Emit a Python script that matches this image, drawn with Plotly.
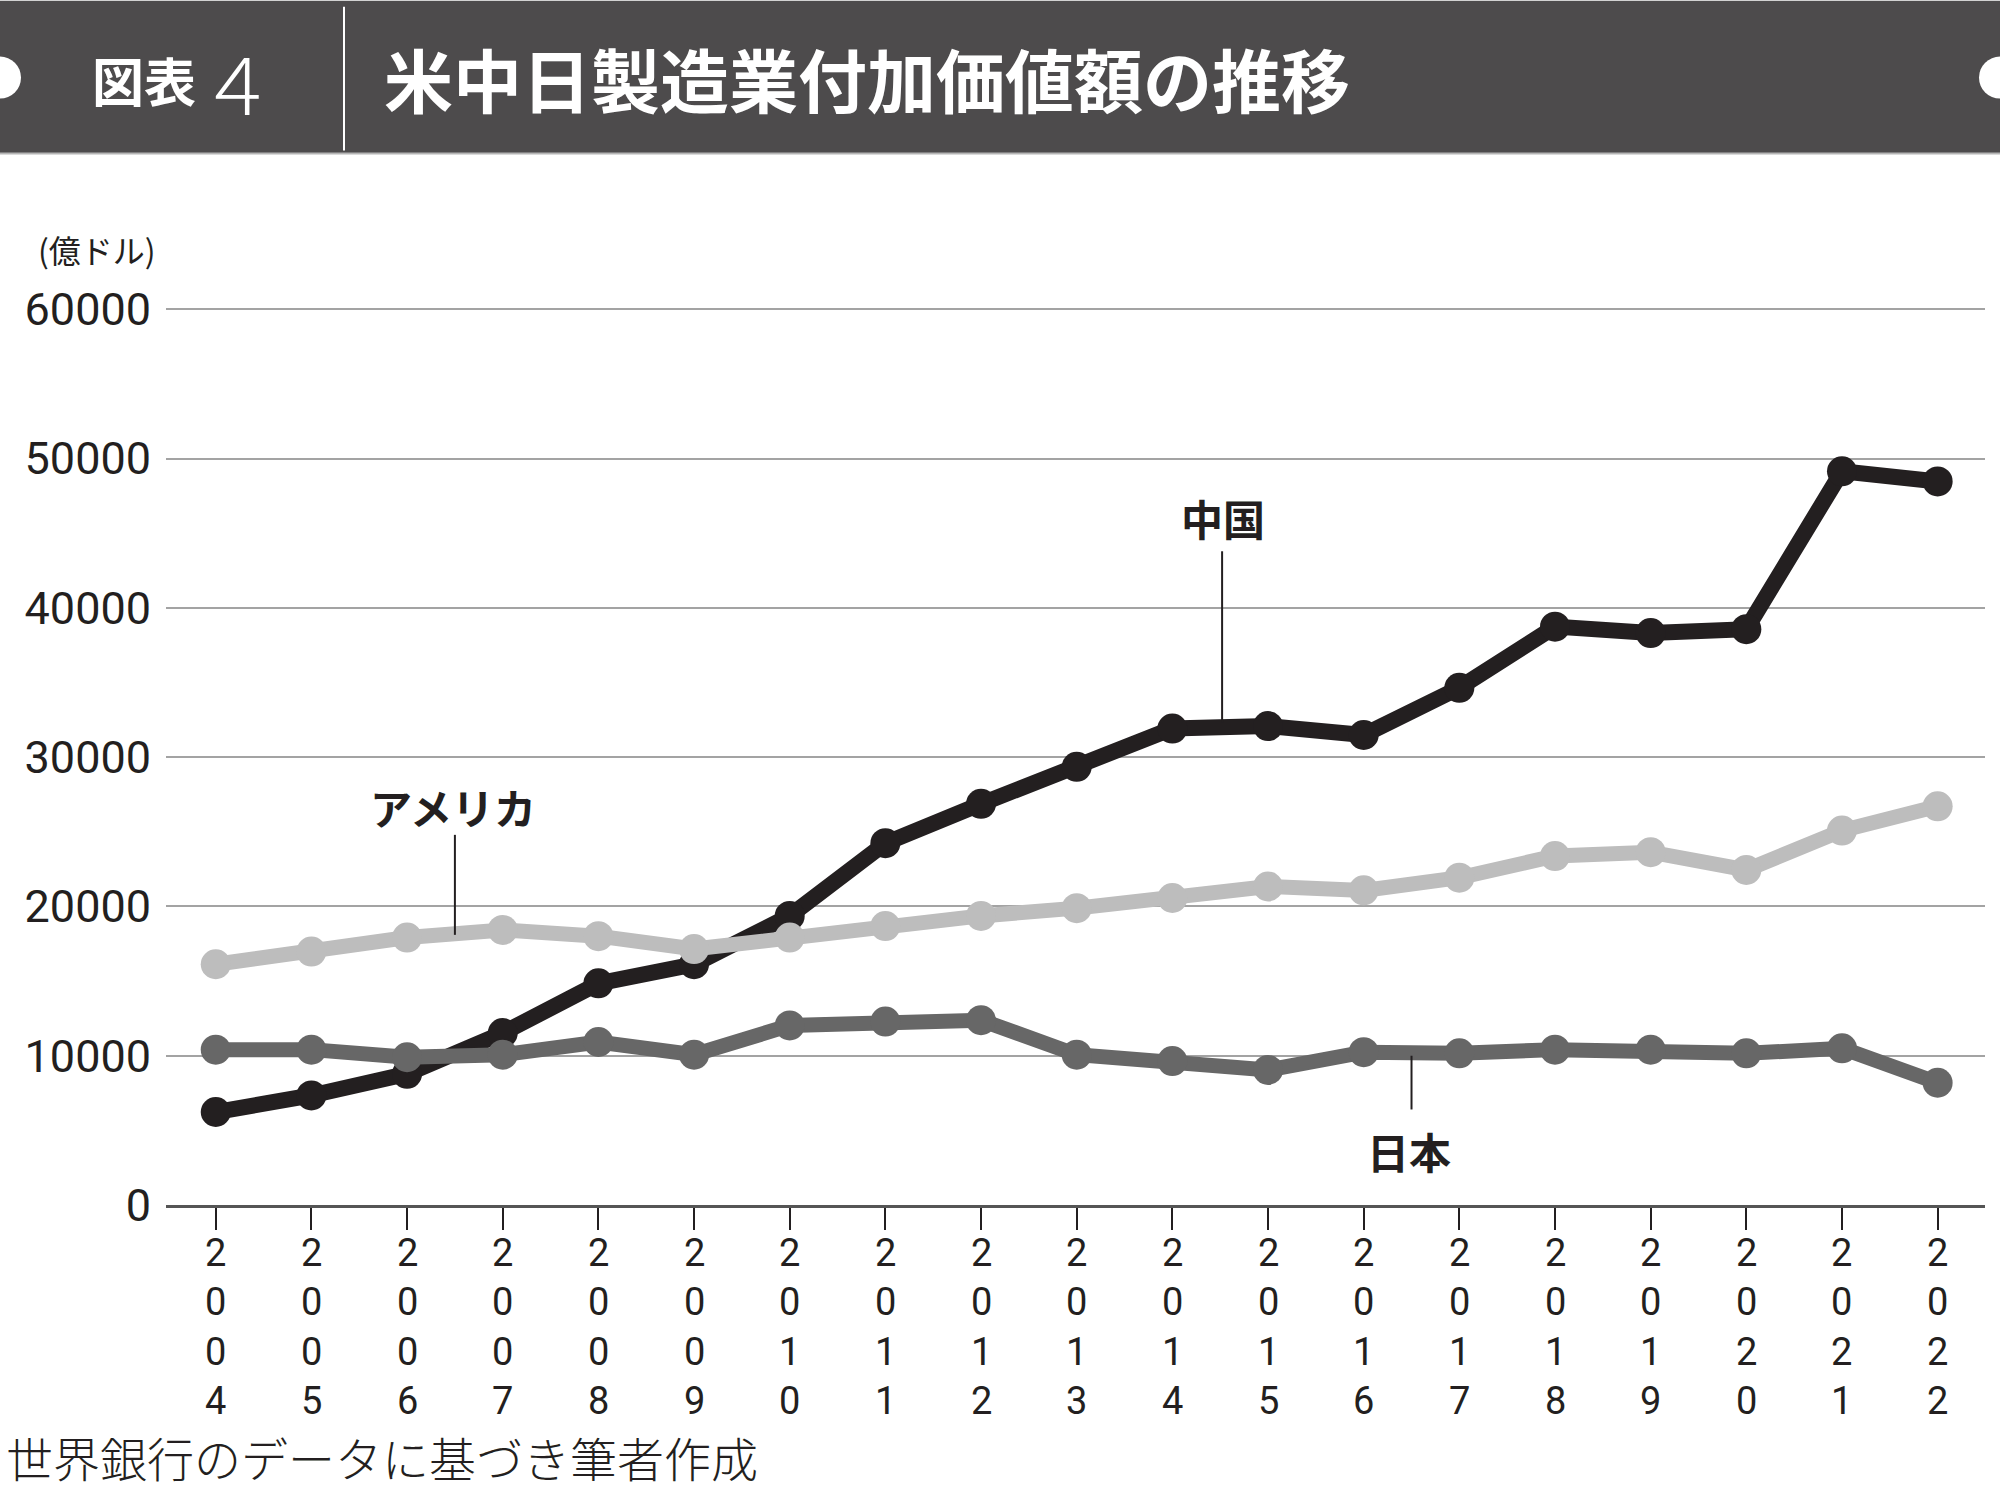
import plotly.graph_objects as go

years = list(range(2004, 2023))
china = [6230, 7340, 8790, 11520, 14850, 16130, 19370, 24240, 26880, 29360,
         31920, 32090, 31490, 34650, 38750, 38320, 38580, 49160, 48480]
usa = [16130, 16980, 17920, 18430, 18010, 17150, 17920, 18690, 19370, 19890,
       20570, 21340, 21080, 21930, 23380, 23640, 22450, 25090, 26710]
japan = [10410, 10410, 9900, 10070, 10920, 10070, 12030, 12290, 12380, 10070,
         9640, 9050, 10240, 10160, 10410, 10410, 10160, 10500, 8190]
y_ticks = [0, 10000, 20000, 30000, 40000, 50000, 60000]

title_main = "米中日製造業付加価値額の推移"
title_tag = "図表"
title_num = "４"
unit_label = "(億ドル)"
source_note = "世界銀行のデータに基づき筆者作成"

W, H = 2000, 1495
YMAX = 60300
PX_PER_UNIT = 896 / 60000
L, R, B = 166, 15, 290
T = 309 - (YMAX - 60000) * PX_PER_UNIT
PW, PH = W - L - R, H - T - B

def xp(px):
    return (px - L) / PW

def yp(py):
    return (H - B - py) / PH

JP = "Noto Sans CJK JP"
NUM = "Roboto, sans-serif"
DARK = "#231f20"

fig = go.Figure()
series = [
    ("中国", china, "#231f20", 16),
    ("日本", japan, "#676767", 15),
    ("アメリカ", usa, "#bdbdbd", 15),
]
for name, vals, col, lw in series:
    fig.add_trace(go.Scatter(
        x=years, y=vals, mode="lines+markers", name=name,
        line=dict(color=col, width=lw),
        marker=dict(color=col, size=30, line=dict(width=0)),
        showlegend=False, cliponaxis=False,
    ))

shapes = [
    dict(type="rect", xref="paper", yref="paper",
         x0=xp(0), x1=xp(W), y0=yp(153), y1=yp(0),
         fillcolor="#4d4b4c", line=dict(width=0), layer="above"),
    dict(type="line", xref="paper", yref="paper",
         x0=xp(0), x1=xp(W), y0=yp(153), y1=yp(153),
         line=dict(color="#b5b5b5", width=2)),
    dict(type="circle", xref="paper", yref="paper",
         x0=xp(-21), x1=xp(21), y0=yp(98), y1=yp(56),
         fillcolor="white", line=dict(width=0)),
    dict(type="circle", xref="paper", yref="paper",
         x0=xp(W - 21), x1=xp(W + 21), y0=yp(98), y1=yp(56),
         fillcolor="white", line=dict(width=0)),
    dict(type="line", xref="paper", yref="paper",
         x0=xp(344), x1=xp(344), y0=yp(150), y1=yp(6),
         line=dict(color="white", width=2)),
    # leader lines
    dict(type="line", xref="x", yref="y", x0=2014.52, x1=2014.52,
         y0=32300, y1=43800, line=dict(color=DARK, width=2)),
    dict(type="line", xref="x", yref="y", x0=2006.5, x1=2006.5,
         y0=18100, y1=24800, line=dict(color=DARK, width=2)),
    dict(type="line", xref="x", yref="y", x0=2016.5, x1=2016.5,
         y0=6400, y1=10000, line=dict(color=DARK, width=2)),
]

annotations = [
    dict(text=title_tag, xref="paper", yref="paper", x=xp(90), y=yp(79),
         xanchor="left", yanchor="middle", showarrow=False,
         font=dict(family=JP, size=52, color="white", weight=700)),
    dict(text=title_num, xref="paper", yref="paper", x=xp(196), y=yp(80),
         xanchor="left", yanchor="middle", showarrow=False,
         font=dict(family=JP, size=78, color="white", weight=300)),
    dict(text=title_main, xref="paper", yref="paper", x=xp(382), y=yp(77),
         xanchor="left", yanchor="middle", showarrow=False,
         font=dict(family=JP, size=69, color="white", weight=700)),
    dict(text=unit_label, xref="paper", yref="paper", x=xp(36), y=yp(248),
         xanchor="left", yanchor="middle", showarrow=False,
         font=dict(family=JP, size=32, color=DARK)),
    dict(text=source_note, xref="paper", yref="paper", x=xp(4), y=yp(1457),
         xanchor="left", yanchor="middle", showarrow=False,
         font=dict(family=JP, size=47, color=DARK, weight=300)),
    dict(text="中国", xref="x", yref="y", x=2014.53, y=46070,
         xanchor="center", yanchor="middle", showarrow=False,
         font=dict(family=JP, size=42, color=DARK, weight=700)),
    dict(text="アメリカ", xref="x", yref="y", x=2006.48, y=26720,
         xanchor="center", yanchor="middle", showarrow=False,
         font=dict(family=JP, size=42, color=DARK, weight=700)),
    dict(text="日本", xref="x", yref="y", x=2016.47, y=3680,
         xanchor="center", yanchor="middle", showarrow=False,
         font=dict(family=JP, size=42, color=DARK, weight=700)),
]

# vertical year labels, one digit per line
for yr in years:
    annotations.append(dict(
        text="<br>".join(str(yr)), xref="x", yref="paper", x=yr, y=yp(1229),
        xanchor="center", yanchor="top", showarrow=False,
        font=dict(family=NUM, size=38, color=DARK, weight=400)))

fig.update_layout(
    width=W, height=H,
    margin=dict(l=L, r=R, t=T, b=B, pad=0),
    paper_bgcolor="white", plot_bgcolor="white",
    shapes=shapes, annotations=annotations,
    xaxis=dict(range=[2003.48, 2022.495], tickvals=years, showticklabels=False,
               ticks="outside", ticklen=22, tickwidth=2, tickcolor=DARK,
               showgrid=False, zeroline=False, showline=True,
               linecolor="#555555", linewidth=3),
    yaxis=dict(range=[0, YMAX], tickvals=y_ticks,
               ticktext=[str(v) for v in y_ticks],
               showgrid=True, gridcolor="#a3a3a3", gridwidth=2,
               zeroline=False, showline=False, ticks="",
               ticklabelstandoff=14,
               tickfont=dict(family=NUM, size=45, color=DARK)),
)

fig.write_html("out.html")
